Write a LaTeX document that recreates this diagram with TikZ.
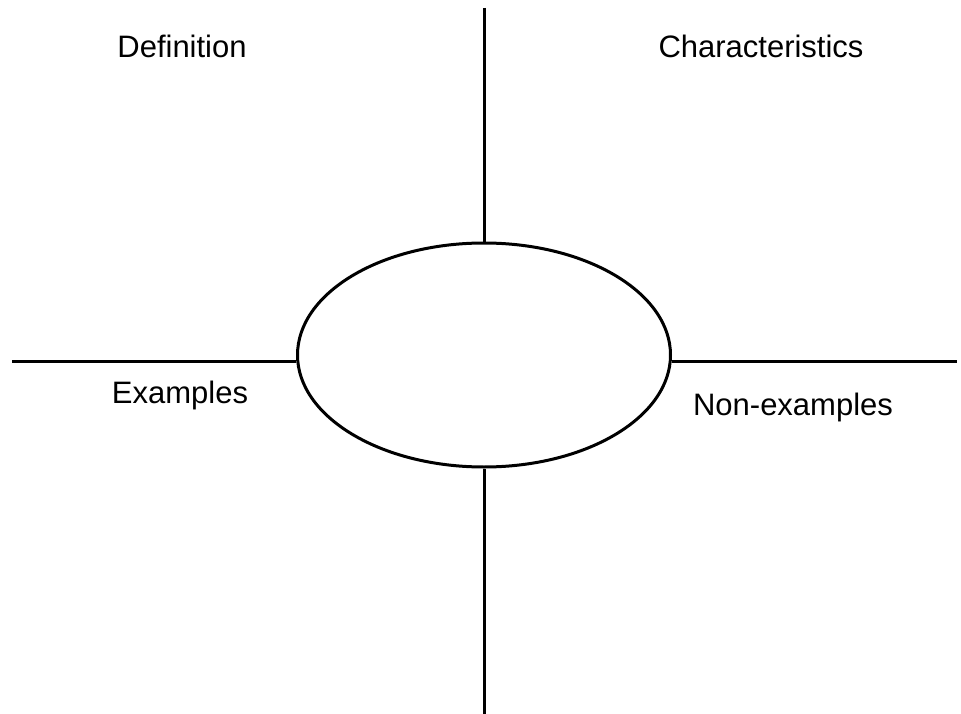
\documentclass[tikz,border=0pt]{standalone}
\usepackage{fontspec}
\setmainfont{Liberation Sans}
\usetikzlibrary{shapes.geometric}
\tikzset{
  quad/.style={anchor=base,font=\fontsize{31}{37}\selectfont},
  hub/.style={draw,ellipse,minimum width=373pt,minimum height=224pt,inner sep=0pt}
}
\begin{document}
\begin{tikzpicture}[x=1pt,y=-1pt,line width=3pt]
  \useasboundingbox (0,0) rectangle (961,714);
  \node[hub] (C) at (484,355) {};
  \coordinate (T) at (484,8);
  \coordinate (B) at (484,714);
  \coordinate (L) at (12,361);
  \coordinate (R) at (957,361);
  \draw (T)--(T |- C.north) (B |- C.south)--(B);
  \draw (L)--(L -| C.west) (R -| C.east)--(R);
  \node[quad] (def) at (182,58) {Definition};
  \node[quad] (chr) at (761,58) {Characteristics};
  \node[quad] (ex) at (180,403) {Examples};
  \node[quad] (nex) at (793,415) {Non-examples};
\end{tikzpicture}
\end{document}
